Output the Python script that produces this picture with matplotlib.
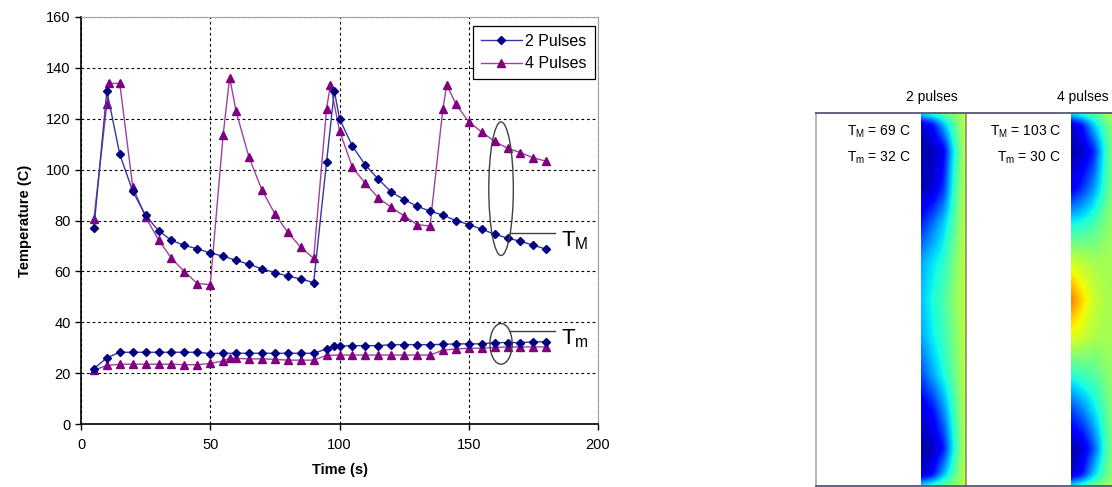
import numpy as np
import matplotlib
matplotlib.use('Agg')
import matplotlib.pyplot as plt
from matplotlib.patches import Ellipse

plt.rcParams['font.family'] = ['Liberation Sans', 'DejaVu Sans']

# ---- data ----
# 2 pulses, maximum temperature T_M
t_max2 = [5, 10, 15, 20, 25, 30, 35, 40, 45, 50, 55, 60, 65, 70, 75, 80, 85, 90, 95, 98,
          100, 105, 110, 115, 120, 125, 130, 135, 140, 145, 150, 155, 160, 165, 170, 175, 180]
T_max2 = [77, 131, 106, 91.5, 82, 76, 72.2, 70.2, 68.9, 67.2, 66, 64.3, 62.8, 61, 59.5, 58.2, 57, 55.6, 103, 131,
          120, 109.2, 101.8, 96.3, 91.2, 88.2, 85.6, 83.7, 82.1, 80, 78.4, 76.6, 74.6, 73.1, 71.8, 70.3, 68.7]

# 4 pulses, maximum temperature T_M
t_max4 = [5, 10, 11, 15, 20, 25, 30, 35, 40, 45, 50, 55, 57.5, 60, 65, 70, 75, 80, 85, 90,
          95, 96.5, 100, 105, 110, 115, 120, 125, 130, 135, 140, 141.5, 145, 150, 155, 160, 165, 170, 175, 180]
T_max4 = [80.7, 125.8, 133.9, 133.9, 93.3, 81.3, 72.4, 65.1, 59.9, 55.2, 54.8, 113.7, 136.2, 122.9, 104.8, 92, 82.6, 75.3, 69.5, 65.1,
          124, 133.3, 115.3, 100.9, 94.6, 88.9, 85.2, 81.8, 78.4, 77.8, 124, 133.3, 125.8, 118.8, 114.8, 111.1, 108.4, 106.7, 104.6, 103.3]

# 2 pulses, minimum temperature T_m
t_min2 = [5, 10, 15, 20, 25, 30, 35, 40, 45, 50, 55, 60, 65, 70, 75, 80, 85, 90, 95, 98,
          100, 105, 110, 115, 120, 125, 130, 135, 140, 145, 150, 155, 160, 165, 170, 175, 180]
T_min2 = [21.8, 26, 28.2, 28.2, 28.2, 28.2, 28.2, 28.2, 28.2, 27.7, 27.8, 27.8, 27.8, 27.8, 27.8, 27.8, 27.8, 27.8, 29.5, 30.6,
          30.6, 30.8, 30.8, 30.8, 31.2, 31.2, 31.2, 31.2, 31.3, 31.5, 31.5, 31.5, 32, 32, 32, 32.3, 32.3]

# 4 pulses, minimum temperature T_m
t_min4 = [5, 10, 15, 20, 25, 30, 35, 40, 45, 50, 55, 57.5, 60, 65, 70, 75, 80, 85, 90,
          95, 100, 105, 110, 115, 120, 125, 130, 135, 140, 145, 150, 155, 160, 165, 170, 175, 180]
T_min4 = [21.2, 23, 23.5, 23.5, 23.5, 23.5, 23.5, 23.3, 23.3, 23.8, 24.8, 25.8, 25.8, 25.6, 25.6, 25.4, 25.1, 25.1, 25.1,
          27, 27.1, 27.1, 27.1, 27.1, 27.1, 27.1, 27.1, 27.1, 29, 29.5, 29.8, 29.8, 30.1, 30.3, 30.3, 30.3, 30.3]

series_labels = ['2 Pulses', '4 Pulses']
x_ticks = [0, 50, 100, 150, 200]
y_ticks = [0, 20, 40, 60, 80, 100, 120, 140, 160]

# temperature field snapshots (normalised, jet colour scale), rows top->bottom, cols left->right
field_rows = [0.0, 0.03, 0.1, 0.2, 0.3, 0.4, 0.5, 0.6, 0.7, 0.8, 0.9, 0.97, 1.0]
field_cols = [0.0, 0.25, 0.5, 0.75, 1.0]
field_2p = [
    [0.35, 0.42, 0.48, 0.52, 0.58],
    [0.06, 0.12, 0.30, 0.46, 0.58],
    [0.04, 0.05, 0.10, 0.38, 0.58],
    [0.05, 0.07, 0.17, 0.42, 0.58],
    [0.16, 0.24, 0.33, 0.46, 0.58],
    [0.29, 0.35, 0.40, 0.50, 0.58],
    [0.32, 0.38, 0.44, 0.52, 0.58],
    [0.29, 0.36, 0.42, 0.50, 0.58],
    [0.20, 0.29, 0.38, 0.48, 0.58],
    [0.08, 0.13, 0.26, 0.43, 0.58],
    [0.04, 0.05, 0.14, 0.39, 0.58],
    [0.06, 0.12, 0.30, 0.46, 0.58],
    [0.35, 0.42, 0.48, 0.52, 0.58],
]
field_4p = [
    [0.35, 0.42, 0.48, 0.52, 0.56],
    [0.06, 0.14, 0.32, 0.45, 0.55],
    [0.04, 0.06, 0.15, 0.38, 0.55],
    [0.10, 0.17, 0.27, 0.41, 0.55],
    [0.38, 0.40, 0.44, 0.50, 0.55],
    [0.60, 0.58, 0.55, 0.55, 0.55],
    [0.78, 0.68, 0.60, 0.56, 0.55],
    [0.62, 0.60, 0.56, 0.55, 0.55],
    [0.40, 0.43, 0.45, 0.50, 0.55],
    [0.18, 0.25, 0.34, 0.44, 0.55],
    [0.04, 0.07, 0.20, 0.40, 0.55],
    [0.06, 0.14, 0.32, 0.45, 0.55],
    [0.35, 0.42, 0.48, 0.52, 0.56],
]
panel_titles = ['2 pulses', '4 pulses']
panel_TM = [69, 103]
panel_Tm = [32, 30]


def smooth(img, n, axis):
    k = np.ones(n) / n
    p = n // 2
    return np.apply_along_axis(lambda v: np.convolve(np.pad(v, p, mode='edge'), k, 'valid'), axis, img)


def resample_field(field, n_rows=372, n_cols=45):
    # smooth picture of the coarse field: resample onto an even grid, then soften
    f = np.array(field)
    rr = np.linspace(0, 1, n_rows)
    cc = np.linspace(0, 1, n_cols)
    tmp = np.array([np.interp(rr, field_rows, f[:, j]) for j in range(f.shape[1])]).T
    img = np.array([np.interp(cc, field_cols, tmp[i]) for i in range(n_rows)])
    img = smooth(smooth(img, 9, 0), 5, 1)
    return img


W, H = 1112, 487
fig = plt.figure(figsize=(W / 100, H / 100), dpi=100)

# ---------------- line chart ----------------
ax = fig.add_axes([81 / W, 1 - 424 / H, (598 - 81) / W, (424 - 17) / H])
blue_line, blue_mk = '#3535a5', '#000080'
mag_line, mag_mk = '#a040a0', '#800080'

ax.plot(t_max2, T_max2, '-', color=blue_line, lw=1, marker='D', ms=3.8,
        mfc=blue_mk, mec=blue_mk, label=series_labels[0], zorder=4)
ax.plot(t_max4, T_max4, '-', color=mag_line, lw=1, marker='^', ms=5.5,
        mfc=mag_mk, mec=mag_mk, label=series_labels[1], zorder=3)
ax.plot(t_min2, T_min2, '-', color=blue_line, lw=1, marker='D', ms=3.8,
        mfc=blue_mk, mec=blue_mk, zorder=4)
ax.plot(t_min4, T_min4, '-', color=mag_line, lw=1, marker='^', ms=5.5,
        mfc=mag_mk, mec=mag_mk, zorder=3)

ax.set_xlim(0, 200)
ax.set_ylim(0, 160)
ax.set_xticks(x_ticks)
ax.set_yticks(y_ticks)
ax.tick_params(direction='out', length=4, width=1, labelsize=10.5, colors='black')
ax.tick_params(axis='x', pad=6)
ax.grid(True, color='black', linestyle=(0, (2.5, 2.5)), linewidth=0.8)
ax.set_axisbelow(True)
for s in ['top', 'right']:
    ax.spines[s].set_color('#a0a0a0')
for s in ['left', 'bottom']:
    ax.spines[s].set_linewidth(1.2)
ax.set_xlabel('Time (s)', fontweight='bold', fontsize=10.5, labelpad=8)
ax.set_ylabel('Temperature (C)', fontweight='bold', fontsize=10.5, labelpad=10)

leg = ax.legend(loc='upper right', bbox_to_anchor=(0.994, 0.978), fancybox=False,
                edgecolor='black', framealpha=1, fontsize=11.5, borderaxespad=0,
                handlelength=2.6, handletextpad=0.2, labelspacing=0.45, borderpad=0.5)
leg.get_frame().set_linewidth(0.9)

# annotation ellipses for T_M and T_m
ax.add_patch(Ellipse((162.5, 92.5), 9.5, 52.5, fill=False, edgecolor='#404040', lw=1, zorder=5))
ax.add_patch(Ellipse((162.5, 31.5), 8.6, 16, fill=False, edgecolor='#404040', lw=1, zorder=5))
ax.plot([166, 183.5], [75, 75], color='#404040', lw=1, zorder=5)
ax.plot([166, 183.5], [36.6, 36.6], color='#404040', lw=1, zorder=5)
ax.text(185.5, 72, r'T$_\mathregular{M}$', fontsize=16, va='center', ha='left')
ax.text(185.5, 33.5, r'T$_\mathregular{m}$', fontsize=16, va='center', ha='left')

# ---------------- temperature field panels ----------------
x0, x1, y0, y1 = 816, 1112, 113, 486
ax2 = fig.add_axes([x0 / W, 1 - y1 / H, (x1 - x0) / W, (y1 - y0) / H])
ax2.axis('off')

strip_left = [921, 1071]
strip_w = 45
for k, field in enumerate([field_2p, field_4p]):
    ax2.imshow(resample_field(field), cmap='jet', vmin=0, vmax=1, aspect='auto',
               interpolation='bilinear',
               extent=(strip_left[k], strip_left[k] + strip_w, y1, y0))
ax2.set_xlim(x0, x1)
ax2.set_ylim(y1, y0)

# panel frames
ax2.plot([816, 816], [y0, y1], color='#b8b8b8', lw=1.5, clip_on=False)
ax2.plot([966, 966], [y0, y1], color='#8c8c6a', lw=1.2, clip_on=False)
ax2.plot([x0, x1], [y0, y0], color='#55557a', lw=1.3, clip_on=False)
ax2.plot([x0, x1], [y1, y1], color='#55557a', lw=1.3, clip_on=False)

title_x = [932, 1083]
label_x = [911, 1061]
for k in range(2):
    ax2.text(title_x[k], 97, panel_titles[k], fontsize=10, ha='center', va='center', clip_on=False)
    ax2.text(label_x[k], 132, r'T$_\mathregular{M}$ = %d C' % panel_TM[k], fontsize=10,
             ha='right', va='center')
    ax2.text(label_x[k], 158, r'T$_\mathregular{m}$ = %d C' % panel_Tm[k], fontsize=10,
             ha='right', va='center')

fig.savefig('out.png', dpi=100)
